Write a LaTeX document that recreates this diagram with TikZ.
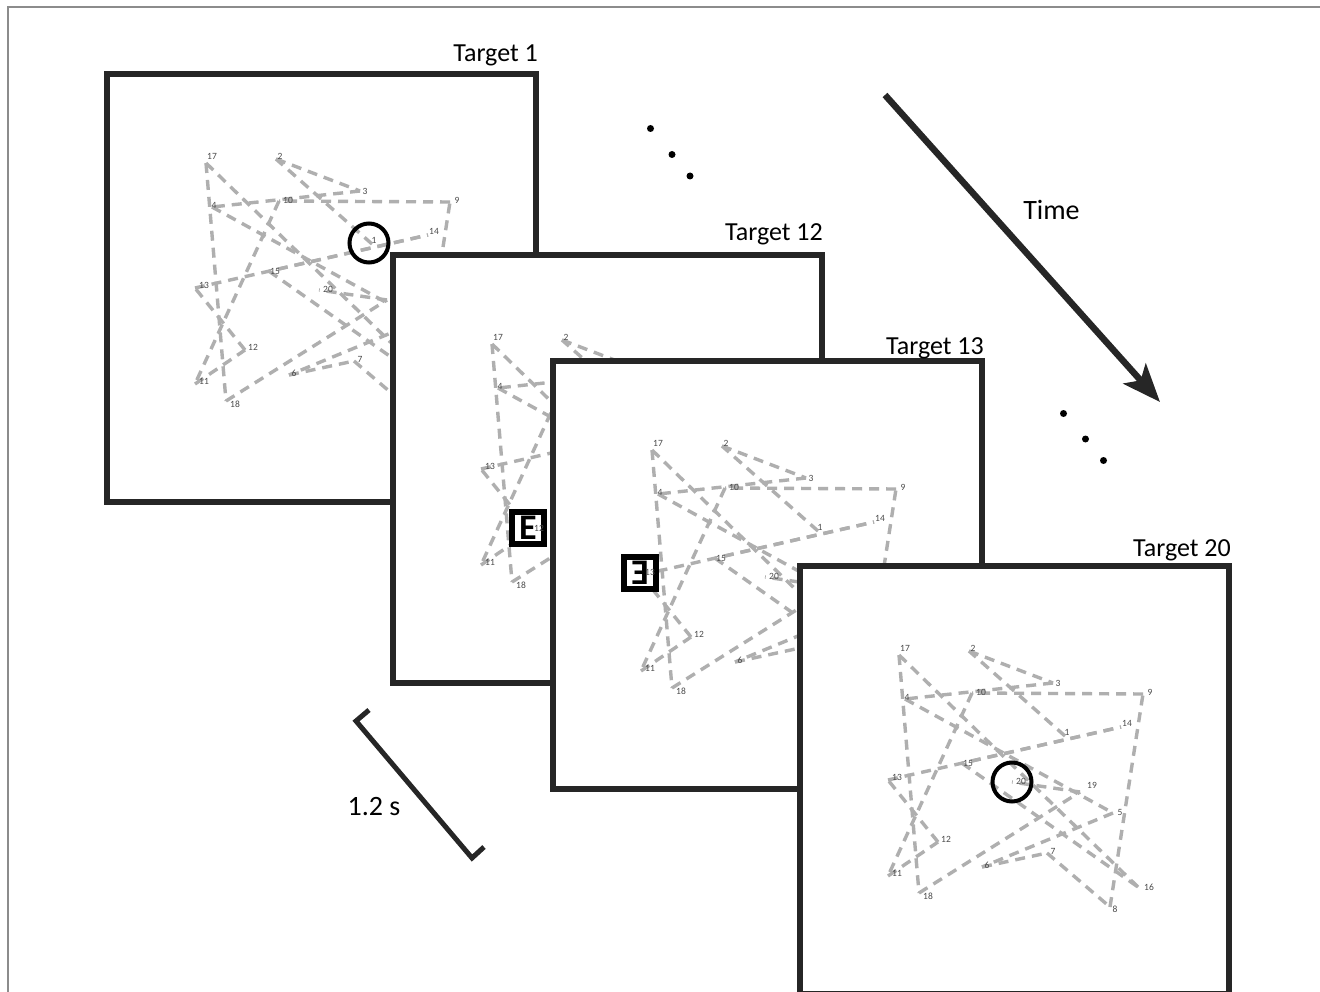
\documentclass[tikz,border=0pt]{standalone}
\usepackage{fontspec}
\setmainfont{Carlito}
\usetikzlibrary{arrows.meta}
\definecolor{frameink}{HTML}{262626}
\definecolor{dashgray}{HTML}{AFAFAF}
\definecolor{numgray}{HTML}{4A4A4A}
\definecolor{edgegray}{HTML}{8C8C8C}
\tikzset{
  framebox/.style={draw=frameink, line width=5.5pt, fill=white},
  dashseg/.style={draw=dashgray, line width=3.4pt, dash pattern=on 10pt off 7pt},
  numlabel/.style={font=\fontsize{9.5}{10}\selectfont, text=numgray, inner sep=0pt},
  titlelabel/.style={font=\fontsize{26}{28}\selectfont, inner sep=0pt, anchor=base east},
  biglabel/.style={font=\fontsize{28}{30}\selectfont, inner sep=0pt, anchor=base},
  targetring/.style={draw=black, line width=4pt, circle, minimum size=39pt, inner sep=0pt},
  ebox/.style={fill=black, minimum size=38pt, inner sep=0pt},
  einner/.style={fill=white, minimum size=26pt, inner sep=0pt},
  eletter/.style={font=\fontsize{36}{36}\selectfont\bfseries, inner sep=0pt, text=black},
  dotnode/.style={circle, fill=black, minimum size=7pt, inner sep=0pt},
  timearrow/.style={draw=frameink, line width=6.5pt, -{Stealth[length=38pt,width=30pt,inset=9pt]}},
  bracketline/.style={draw=frameink, line width=5pt, line join=miter}
}
\def\ptlist{1/265/170, 2/169/85, 3/253/117, 4/105/133, 5/313/247, 6/182/301, 7/247/287,
  8/310/341, 9/343/128, 10/172/127, 11/88/310, 12/138/276, 13/88/214, 14/321/161,
  15/162/197.2, 16/338/321, 17/99/89, 18/119/327, 19/280/226, 20/212/216}
\def\lbllist{1/267/166, 2/173/82, 3/258/117, 4/107/131, 5/320/246, 6/187/299, 7/253/285,
  8/315/343, 9/350/126, 10/181/126, 11/97/307, 12/146/273, 13/97/211, 14/327/157,
  15/168/197, 16/349/321, 17/105/82, 18/128/330, 19/292/219, 20/221/215}
\newcommand{\dotpattern}[1]{%
  \foreach \n/\px/\py in \ptlist {\coordinate (#1-p\n) at (\px,\py);}
  \foreach \b [count=\a] in {2,...,13} {\draw[dashseg] (#1-p\a) -- (#1-p\b);}
  \draw[dashseg] (#1-p13) -- (#1-p14);
  \draw[dashseg, dash phase=7.9pt] (#1-p15) -- (#1-p14);
  \foreach \b [count=\a from 15] in {16,...,20} {\draw[dashseg] (#1-p\a) -- (#1-p\b);}
}
\newcommand{\dotlabels}[1]{%
  \foreach \n/\px/\py in \lbllist {\node[numlabel] (#1-n\n) at (\px,\py) {\n};}
}
\begin{document}
\begin{tikzpicture}[x=1pt,y=-1pt]
\useasboundingbox (0,0) rectangle (1320,992);
\draw[edgegray, line width=1.5pt] (8,992) -- (8,7) -- (1320,7);

% Frame: Target 1
\begin{scope}[shift={(107,74)}]
  \draw[framebox] (0,0) rectangle (429,428);
  \dotpattern{fa}
  \node[targetring] (ringa) at (262,169) {};
  \dotlabels{fa}
  \node[titlelabel] (titlea) at (431,-12) {Target 1};
\end{scope}

% Frame: Target 12
\begin{scope}[shift={(393,255)}]
  \draw[framebox] (0,0) rectangle (429,428);
  \dotpattern{fb}
  \node[ebox] (eboxb) at (135,273) {};
  \node[einner] (einb) at (135,273) {};
  \node[eletter] (eletb) at (135,273) {E};
  \dotlabels{fb}
  \node[titlelabel] (titleb) at (430,-14) {Target 12};
\end{scope}

% Frame: Target 13
\begin{scope}[shift={(553,361)}]
  \draw[framebox] (0,0) rectangle (429,428);
  \dotpattern{fc}
  \node[ebox] (eboxc) at (87,212) {};
  \node[einner] (einc) at (87,212) {};
  \node[eletter] (eletc) at (87,212) {\scalebox{-1}[1]{E}};
  \dotlabels{fc}
  \node[titlelabel] (titlec) at (431,-7) {Target 13};
\end{scope}

% Frame: Target 20
\begin{scope}[shift={(800,566)}]
  \draw[framebox] (0,0) rectangle (429,428);
  \dotpattern{fd}
  \node[targetring] (ringd) at (212,216) {};
  \dotlabels{fd}
  \node[titlelabel] (titled) at (431,-10) {Target 20};
\end{scope}

% ellipsis dots
\node[dotnode] (da1) at (650.5,128.5) {};
\node[dotnode] (da2) at (672,154.5) {};
\node[dotnode] (da3) at (690,176) {};
\node[dotnode] (db1) at (1063.5,413.5) {};
\node[dotnode] (db2) at (1085.5,439) {};
\node[dotnode] (db3) at (1103.5,460.5) {};

% time arrow
\coordinate (tstart) at (885,95);
\coordinate (tend) at (1160,402);
\draw[timearrow] (tstart) -- (tend);
\node[biglabel] (timelbl) at (1051.5,220) {Time};

% duration bracket
\coordinate (bra) at (369,710);
\coordinate (brb) at (356,721);
\coordinate (brc) at (472,858);
\coordinate (brd) at (484,847);
\draw[bracketline] (bra) -- (brb) -- (brc) -- (brd);
\node[biglabel] (durlbl) at (374,815) {1.2 s};
\end{tikzpicture}
\end{document}
